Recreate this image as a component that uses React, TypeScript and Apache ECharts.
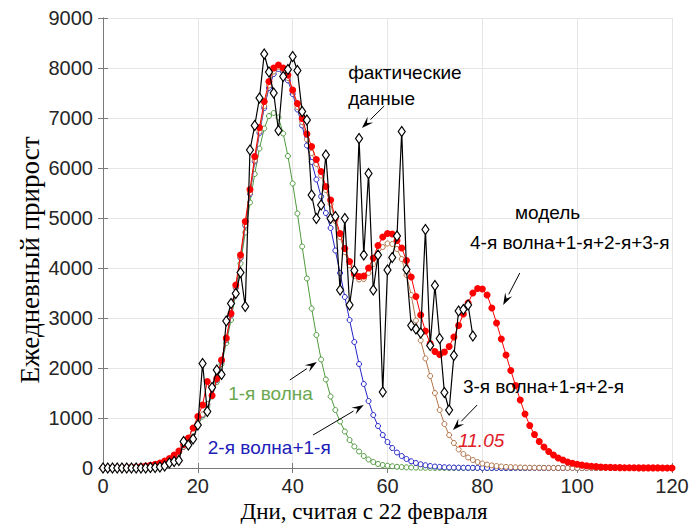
import React, { useEffect, useRef } from 'react';
import * as echarts from 'echarts';

// ежедневный прирост, фактические данные (дни 0..78)
const factValues = [
  0, 0, 0, 0, 0, 0, 0, 0, 0, 0,
  10, 10, 20, 40, 100, 130, 150, 530, 460, 580,
  860, 2090, 1130, 1610, 1960, 1870, 2940, 3290, 3490, 3910,
  3230, 6360, 6850, 7400, 8280, 7920, 7500, 6750, 7830, 7970,
  8230, 7950, 7130, 6960, 5460, 4990, 5260, 6260, 4990, 5030,
  3560, 4990, 3260, 3950, 6590, 4260, 5890, 3560, 4260, 1520,
  3960, 4210, 4640, 6730, 3970, 2850, 2780, 2700, 4770, 2450,
  3650, 2590, 1510, 1160, 2250, 3140, 3170, 3260, 2640,
];

// модель: 1-я волна (дни 0..120)
const wave1 = [
  0, 0, 0, 5, 5, 10, 15, 20, 30, 40,
  55, 75, 100, 135, 180, 230, 310, 420, 540, 690,
  850, 1030, 1230, 1430, 1720, 2080, 2500, 2960, 3500, 4090,
  4710, 5310, 5880, 6390, 6790, 7040, 7100, 7010, 6690, 6240,
  5690, 5090, 4430, 3790, 3190, 2660, 2170, 1770, 1430, 1160,
  930, 730, 560, 430, 330, 240, 170, 120, 80, 60,
  45, 35, 25, 18, 13, 10, 7, 5, 4, 3,
  2, 2, 1, 1, 1, 1, 0, 0, 0, 0,
  0, 0, 0, 0, 0, 0, 0, 0, 0, 0,
  0, 0, 0, 0, 0, 0, 0, 0, 0, 0,
  0, 0, 0, 0, 0, 0, 0, 0, 0, 0,
  0, 0, 0, 0, 0, 0, 0, 0, 0, 0,
  0,
];

// 2-я волна + 1-я
const wave12 = [
  0, 0, 0, 5, 5, 10, 15, 20, 30, 40,
  55, 75, 100, 135, 180, 235, 315, 425, 550, 710,
  870, 1060, 1270, 1440, 1760, 2130, 2560, 3050, 3600, 4200,
  4850, 5480, 6130, 6700, 7200, 7600, 7880, 7980, 7920, 7750,
  7480, 7170, 6850, 6450, 6120, 5770, 5430, 5100, 4800, 4350,
  3900, 3420, 2960, 2520, 2080, 1680, 1340, 1060, 840, 660,
  520, 400, 310, 240, 180, 135, 100, 75, 55, 40,
  30, 22, 16, 12, 9, 7, 5, 4, 3, 2,
  2, 1, 1, 1, 0, 0, 0, 0, 0, 0,
  0, 0, 0, 0, 0, 0, 0, 0, 0, 0,
  0, 0, 0, 0, 0, 0, 0, 0, 0, 0,
  0, 0, 0, 0, 0, 0, 0, 0, 0, 0,
  0,
];

// 3-я волна + 1-я + 2-я
const wave123 = [
  0, 0, 0, 5, 5, 10, 15, 20, 30, 40,
  55, 75, 100, 135, 180, 235, 315, 425, 550, 710,
  880, 1070, 1280, 1450, 1770, 2140, 2570, 3060, 3610, 4210,
  4860, 5500, 6150, 6730, 7240, 7650, 7930, 8020, 7960, 7800,
  7530, 7220, 6920, 6570, 6300, 6080, 5850, 5560, 5280, 4940,
  4620, 4320, 4060, 3840, 3770, 3780, 3900, 4080, 4280, 4420,
  4490, 4480, 4380, 4180, 3860, 3460, 2950, 2550, 2190, 1840,
  1500, 1160, 880, 660, 500, 370, 280, 210, 160, 120,
  90, 68, 52, 40, 30, 23, 18, 14, 11, 8,
  6, 5, 4, 3, 2, 2, 1, 1, 0, 0,
  0, 0, 0, 0, 0, 0, 0, 0, 0, 0,
  0, 0, 0, 0, 0, 0, 0, 0, 0, 0,
  0,
];

// 4-я волна + 1-я + 2-я + 3-я
const wave1234 = [
  0, 0, 0, 5, 5, 10, 15, 20, 30, 40,
  55, 75, 100, 140, 190, 260, 340, 470, 600, 800,
  1030, 1260, 1730, 1450, 1790, 2160, 2600, 3090, 3660, 4260,
  4930, 5570, 6230, 6810, 7330, 7730, 8000, 8060, 8000, 7860,
  7560, 7290, 6990, 6680, 6430, 6170, 5930, 5630, 5360, 5000,
  4690, 4390, 4130, 3890, 3830, 3840, 4000, 4200, 4450, 4620,
  4690, 4680, 4550, 4400, 4150, 3820, 3430, 3060, 2740, 2490,
  2330, 2270, 2320, 2430, 2620, 2850, 3080, 3300, 3500, 3590,
  3580, 3460, 3200, 2900, 2580, 2260, 1950, 1650, 1360, 1080,
  850, 670, 530, 420, 330, 260, 200, 160, 120, 95,
  75, 58, 45, 35, 27, 21, 16, 12, 10, 8,
  6, 5, 4, 3, 3, 2, 2, 2, 1, 1,
  1,
];

const xTicks = { min: 0, max: 120, interval: 20 };
const yTicks = { min: 0, max: 9000, interval: 1000 };

const GREEN = '#4f9a3e';
const BLUE = '#2424c8';
const BROWN = '#b27448';
const RED = '#ff0000';

// подписи: [текст, день, значение, цвет, курсив]
const labels: [string, number, number, string, boolean][] = [
  ['фактические', 51.7, 7920, '#000', false],
  ['данные', 51.7, 7400, '#000', false],
  ['модель', 86.9, 5120, '#000', false],
  ['4-я волна+1-я+2-я+3-я', 77.4, 4520, '#000', false],
  ['3-я волна+1-я+2-я', 75.9, 1640, '#000', false],
  ['11.05', 74.9, 560, '#e0202a', true],
  ['1-я волна', 26.4, 1500, '#6aa84f', false],
  ['2-я волна+1-я', 22.1, 420, '#2020b8', false],
];

// стрелки: [хвост, острие]
const arrows: [number[], number[]][] = [
  [[59.3, 7240], [54.6, 6800]],
  [[87.9, 3900], [84.4, 3260]],
  [[78.9, 1260], [73.8, 760]],
  [[39.4, 1760], [45.1, 2120]],
  [[44.3, 660], [55.0, 1260]],
];

const toPairs = (vals: number[]) => vals.map((v, i) => [i, v]);

const App: React.FC = () => {
  const chartRef = useRef<HTMLDivElement>(null);

  useEffect(() => {
    if (!chartRef.current) return;
    const chart = echarts.init(chartRef.current, undefined, { renderer: 'svg' });

    const axisLine = { show: true, lineStyle: { color: '#7a7a7a', width: 1 } };
    const tick = { show: true, inside: true, length: 5, lineStyle: { color: '#7a7a7a' } };
    const labelStyle = {
      fontFamily: 'Liberation Sans', fontSize: 20, color: '#262626',
      formatter: (v: number) => String(v),
    };

    const hollow = (color: string, z: number) => ({
      type: 'line',
      symbol: 'circle',
      symbolSize: 5,
      showAllSymbol: true,
      silent: true,
      z,
      lineStyle: { color, width: 1 },
      itemStyle: { color: '#fff', borderColor: color, borderWidth: 1 },
    });

    chart.setOption({
      animation: false,
      grid: { left: 103, right: 27, top: 18, bottom: 56 },
      xAxis: [
        {
          type: 'value', ...xTicks,
          axisLine, axisTick: tick,
          axisLabel: { ...labelStyle, margin: 8 },
          splitLine: { show: true, lineStyle: { color: '#e6e6e6' } },
        },
        {
          type: 'value', position: 'top', ...xTicks,
          axisLine, axisTick: tick, axisLabel: { show: false }, splitLine: { show: false },
        },
      ],
      yAxis: [
        {
          type: 'value', ...yTicks,
          axisLine, axisTick: tick,
          axisLabel: { ...labelStyle, margin: 10 },
          splitLine: { show: true, lineStyle: { color: '#e6e6e6' } },
        },
        {
          type: 'value', position: 'right', ...yTicks,
          axisLine, axisTick: tick, axisLabel: { show: false }, splitLine: { show: false },
        },
      ],
      series: [
        { ...hollow(GREEN, 2), name: '1-я волна', data: toPairs(wave1) },
        { ...hollow(BLUE, 3), name: '2-я волна+1-я', data: toPairs(wave12) },
        { ...hollow(BROWN, 4), name: '3-я волна+1-я+2-я', data: toPairs(wave123) },
        {
          type: 'line', name: '4-я волна+1-я+2-я+3-я', data: toPairs(wave1234),
          symbol: 'circle', symbolSize: 7, showAllSymbol: true, silent: true, z: 5,
          lineStyle: { color: RED, width: 1 },
          itemStyle: { color: RED, borderWidth: 0 },
        },
        {
          type: 'line', name: 'фактические данные', data: toPairs(factValues),
          symbol: 'diamond', symbolSize: [7, 10], showAllSymbol: true, silent: true, z: 6,
          lineStyle: { color: '#000', width: 1.2 },
          itemStyle: { color: '#fff', borderColor: '#000', borderWidth: 1.2 },
        },
      ],
    });

    const px = (p: number[]) => chart.convertToPixel({ gridIndex: 0 }, p) as number[];

    const graphic: any[] = [
      {
        type: 'text', x: 30, y: 260, rotation: Math.PI / 2, silent: true,
        style: {
          text: 'Ежедневный прирост', fill: '#000', fontFamily: 'Liberation Serif',
          fontSize: 27, align: 'center', verticalAlign: 'middle',
        },
      },
      {
        type: 'text', x: 364, y: 511, silent: true,
        style: {
          text: 'Дни, считая с 22 февраля', fill: '#000', fontFamily: 'Liberation Serif',
          fontSize: 23, align: 'center', verticalAlign: 'middle',
        },
      },
    ];

    labels.forEach(([text, d, v, color, italic]) => {
      const [x, y] = px([d, v]);
      graphic.push({
        type: 'text', x, y, silent: true, z: 20,
        style: {
          text, fill: color, fontFamily: 'Liberation Sans', fontSize: 19,
          fontStyle: italic ? 'italic' : 'normal', align: 'left', verticalAlign: 'middle',
        },
      });
    });

    arrows.forEach(([from, to]) => {
      const [x1, y1] = px(from);
      const [x2, y2] = px(to);
      const ang = Math.atan2(y2 - y1, x2 - x1);
      const len = 12;
      const half = 4;
      const bx = x2 - len * Math.cos(ang);
      const by = y2 - len * Math.sin(ang);
      graphic.push({
        type: 'line', silent: true, z: 20,
        shape: { x1, y1, x2: bx, y2: by },
        style: { stroke: '#000', lineWidth: 1 },
      });
      graphic.push({
        type: 'polygon', silent: true, z: 20,
        shape: {
          points: [
            [x2, y2],
            [bx + half * Math.sin(ang), by - half * Math.cos(ang)],
            [x2 - 0.6 * len * Math.cos(ang), y2 - 0.6 * len * Math.sin(ang)],
            [bx - half * Math.sin(ang), by + half * Math.cos(ang)],
          ],
        },
        style: { fill: '#000' },
      });
    });

    chart.setOption({ graphic });

    return () => {
      chart.dispose();
    };
  }, []);

  return (
    <div
      ref={chartRef}
      style={{ position: 'absolute', left: 0, top: 0, width: '699px', height: '524px', background: '#fff' }}
    ></div>
  );
};

export default App;
